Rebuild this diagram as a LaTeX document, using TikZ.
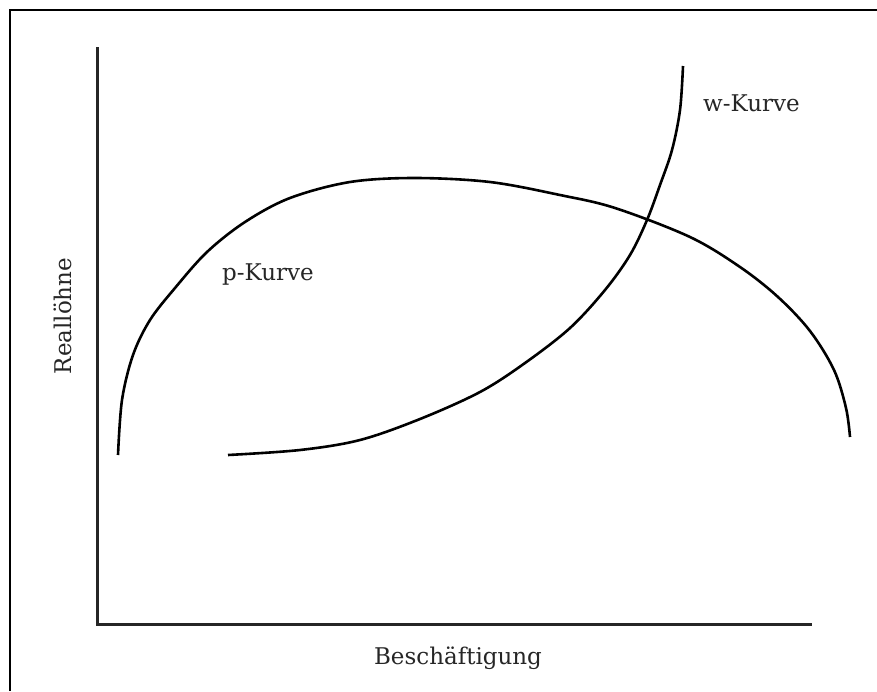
\documentclass[tikz,border=0pt]{standalone}
\usepackage{fontspec}
\setmainfont{DejaVu Serif}
\begin{document}
\begin{tikzpicture}[x=1pt,y=-1pt,
  frameline/.style={line width=2pt,black},
  axisline/.style={line width=3pt,black!85},
  curveline/.style={line width=2.6pt,black},
  lbl/.style={inner sep=0pt,font=\fontsize{23}{26}\selectfont,text=black!85}]
\useasboundingbox (0,0) rectangle (877,691);
\draw[frameline] (10,691) -- (10,10) -- (877,10);
\coordinate (ytop) at (97,47);
\coordinate (orig) at (97,624);
\coordinate (xend) at (812,624);
\draw[axisline] (ytop) -- (orig) -- (xend);
% p-Kurve
\draw[curveline] plot[smooth,tension=0.55] coordinates {(118,455) (122,400) (133,355) (150,320) (175,288) (207,252) (245,222) (290,198) (350,182) (415,178) (490,182) (560,195) (615,208) (690,237) (740,267) (778,297) (810,331) (834,370) (846,408) (850,437)};
% w-Kurve
\draw[curveline] plot[smooth,tension=0.55] coordinates {(228,455) (300,450) (360,440) (420,419) (480,392) (525,363) (570,328) (605,290) (630,255) (647,220) (660,185) (672,150) (680,110) (683,66)};
\node[lbl,anchor=west] (wk) at (703,103) {w-Kurve};
\node[lbl,anchor=west] (pk) at (222,275) {p-Kurve};
\node[lbl,rotate=90] (yl) at (63,316) {Reallöhne};
\node[lbl] (xl) at (458,658) {Beschäftigung};
\end{tikzpicture}
\end{document}
